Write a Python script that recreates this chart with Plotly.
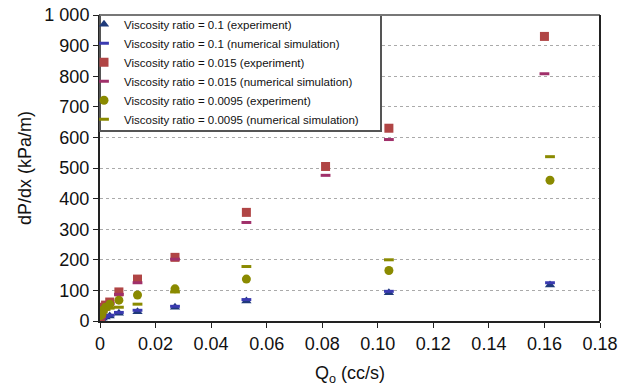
import plotly.graph_objects as go

# ---- data ----
x_blue = [0.0002, 0.0005, 0.001, 0.002, 0.0035, 0.0068, 0.0135, 0.027, 0.0527, 0.104, 0.162]
y_blue_exp = [5, 8, 10, 13, 16, 25, 30, 45, 65, 92, 118]
y_blue_sim = [6, 9, 12, 15, 19, 28, 35, 48, 70, 97, 125]

x_red = [0.0002, 0.0005, 0.001, 0.002, 0.0035, 0.0068, 0.0135, 0.027, 0.0527, 0.0812, 0.104, 0.160]
y_red_exp = [10, 25, 45, 52, 62, 95, 137, 208, 355, 505, 630, 930]
y_red_sim = [9, 22, 40, 48, 58, 87, 125, 202, 322, 476, 593, 808]

x_olive = [0.0002, 0.0005, 0.001, 0.002, 0.0035, 0.0068, 0.0135, 0.027, 0.0527, 0.104, 0.162]
y_olive_exp = [18, 25, 35, 45, 55, 68, 85, 105, 137, 165, 460]
y_olive_sim = [15, 22, 30, 38, 42, 45, 55, 95, 178, 200, 537]

y_ticks = [0, 100, 200, 300, 400, 500, 600, 700, 800, 900, 1000]
y_ticktext = ["0", "100", "200", "300", "400", "500", "600", "700", "800", "900", "1 000"]
x_ticks = [0, 0.02, 0.04, 0.06, 0.08, 0.10, 0.12, 0.14, 0.16, 0.18]
x_ticktext = ["0", "0.02", "0.04", "0.06", "0.08", "0.10", "0.12", "0.14", "0.16", "0.18"]

BLUE = "#1F3A7A"
BLUE_SIM = "#3A3AB0"
RED = "#B04545"
PINK = "#A0306A"
OLIVE = "#8A8A00"

fig = go.Figure()
fig.add_trace(go.Scatter(x=x_blue, y=y_blue_exp, mode="markers",
                         name="Viscosity ratio = 0.1 (experiment)",
                         marker=dict(symbol="triangle-up", size=9, color=BLUE)))
fig.add_trace(go.Scatter(x=x_blue, y=y_blue_sim, mode="markers",
                         name="Viscosity ratio = 0.1 (numerical simulation)",
                         marker=dict(symbol="line-ew", size=7, line=dict(color=BLUE_SIM, width=3))))
fig.add_trace(go.Scatter(x=x_red, y=y_red_exp, mode="markers",
                         name="Viscosity ratio = 0.015 (experiment)",
                         marker=dict(symbol="square", size=9, color=RED)))
fig.add_trace(go.Scatter(x=x_red, y=y_red_sim, mode="markers",
                         name="Viscosity ratio = 0.015 (numerical simulation)",
                         marker=dict(symbol="line-ew", size=7, line=dict(color=PINK, width=3))))
fig.add_trace(go.Scatter(x=x_olive, y=y_olive_exp, mode="markers",
                         name="Viscosity ratio = 0.0095 (experiment)",
                         marker=dict(symbol="circle", size=9, color=OLIVE)))
fig.add_trace(go.Scatter(x=x_olive, y=y_olive_sim, mode="markers",
                         name="Viscosity ratio = 0.0095 (numerical simulation)",
                         marker=dict(symbol="line-ew", size=7, line=dict(color=OLIVE, width=3))))

fig.update_layout(
    width=630, height=391,
    margin=dict(l=100, r=30, t=15, b=70, autoexpand=False),
    paper_bgcolor="white", plot_bgcolor="white",
    font=dict(family="Liberation Sans, Arial, sans-serif", color="#111"),
    showlegend=True,
    legend=dict(x=-16 / 500, y=1.017, xanchor="left", yanchor="top",
                bgcolor="rgba(0,0,0,0)", borderwidth=0,
                font=dict(size=11.5, color="#111"),
                itemwidth=30, tracegroupgap=0),
)
fig.update_xaxes(range=[0, 0.18], tickvals=x_ticks, ticktext=x_ticktext,
                 showgrid=False, zeroline=False,
                 showline=True, linecolor="#222", linewidth=2,
                 ticks="outside", ticklen=5, tickcolor="#222",
                 tickfont=dict(size=18),
                 title=dict(text="Q<sub>o</sub> (cc/s)", font=dict(size=18), standoff=14))
fig.update_yaxes(range=[0, 1000], tickvals=y_ticks, ticktext=y_ticktext,
                 showgrid=True, gridcolor="#aaaaaa", griddash="dot", gridwidth=1,
                 zeroline=False,
                 showline=True, linecolor="#222", linewidth=2,
                 ticks="outside", ticklen=5, tickcolor="#222",
                 tickfont=dict(size=18),
                 title=dict(text="dP/dx (kPa/m)", font=dict(size=18), standoff=8))
# legend box (white panel with border)
fig.add_shape(type="rect", xref="paper", yref="paper",
              x0=0, x1=281 / 500, y0=1 - 116 / 306, y1=1,
              fillcolor="white", line=dict(color="#555", width=2), layer="above")
# top and right frame
fig.add_shape(type="line", xref="paper", yref="paper", x0=0, x1=1, y0=1, y1=1,
              line=dict(color="#777", width=2))
fig.add_shape(type="line", xref="paper", yref="paper", x0=1, x1=1, y0=0, y1=1,
              line=dict(color="#222", width=2))

fig.write_html("out.html")
